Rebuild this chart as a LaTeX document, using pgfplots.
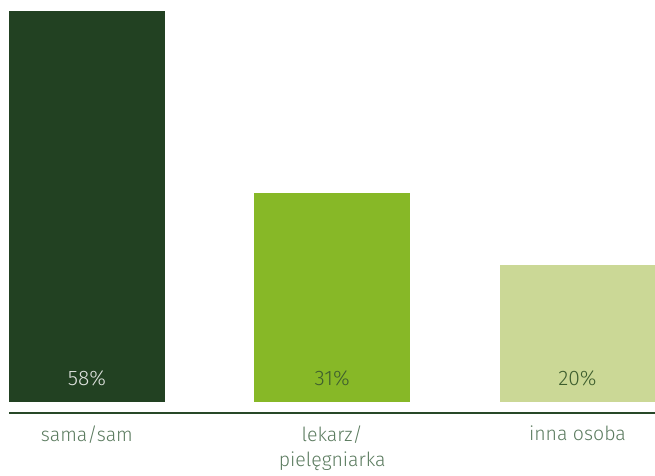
\documentclass[border=0pt]{standalone}
\usepackage{fontspec}
\setmainfont{Fira Sans Light}
\usepackage{pgfplots}
\pgfplotsset{compat=1.18}
\definecolor{barA}{HTML}{224122}
\definecolor{barB}{HTML}{87B827}
\definecolor{barC}{HTML}{CBD896}
\definecolor{axln}{HTML}{284828}
\definecolor{cattxt}{HTML}{5B7B5F}
\definecolor{valdark}{HTML}{3E5E2E}
\begin{document}
\begin{tikzpicture}
\begin{axis}[
  at={(9pt,62pt)}, anchor=south west,
  scale only axis, width=646pt, height=413pt,
  xmin=-0.3177, xmax=2.316,
  ymin=-1.632, ymax=59.63,
  axis x line=bottom, axis y line=none,
  axis line style={-, draw=axln, line width=1.3pt},
  xtick={0,1,2},
  xticklabels={sama/sam, {lekarz/\\pielęgniarka}, inna osoba},
  major tick length=0pt,
  xticklabel style={align=center, anchor=north, inner sep=0pt, yshift=-13pt,
    text=cattxt, font=\fontsize{19.5}{24.5}\selectfont},
  ytick=\empty,
  ybar, bar shift=0pt, bar width=0.6355,
  clip=false,
]
\addplot[fill=barA, draw=none] coordinates {(0,58)};
\addplot[fill=barB, draw=none] coordinates {(1,31)};
\addplot[fill=barC, draw=none] coordinates {(2,20.3)};
\node[text=white!85!barA, font=\fontsize{21}{24}\selectfont] at (axis cs:0,3.5) {58\%};
\node[text=valdark, font=\fontsize{21}{24}\selectfont] at (axis cs:1,3.5) {31\%};
\node[text=valdark, font=\fontsize{21}{24}\selectfont] at (axis cs:2,3.5) {20\%};
\end{axis}
\pgfresetboundingbox
\path[use as bounding box] (0,0) rectangle (655pt,475pt);
\end{tikzpicture}
\end{document}
